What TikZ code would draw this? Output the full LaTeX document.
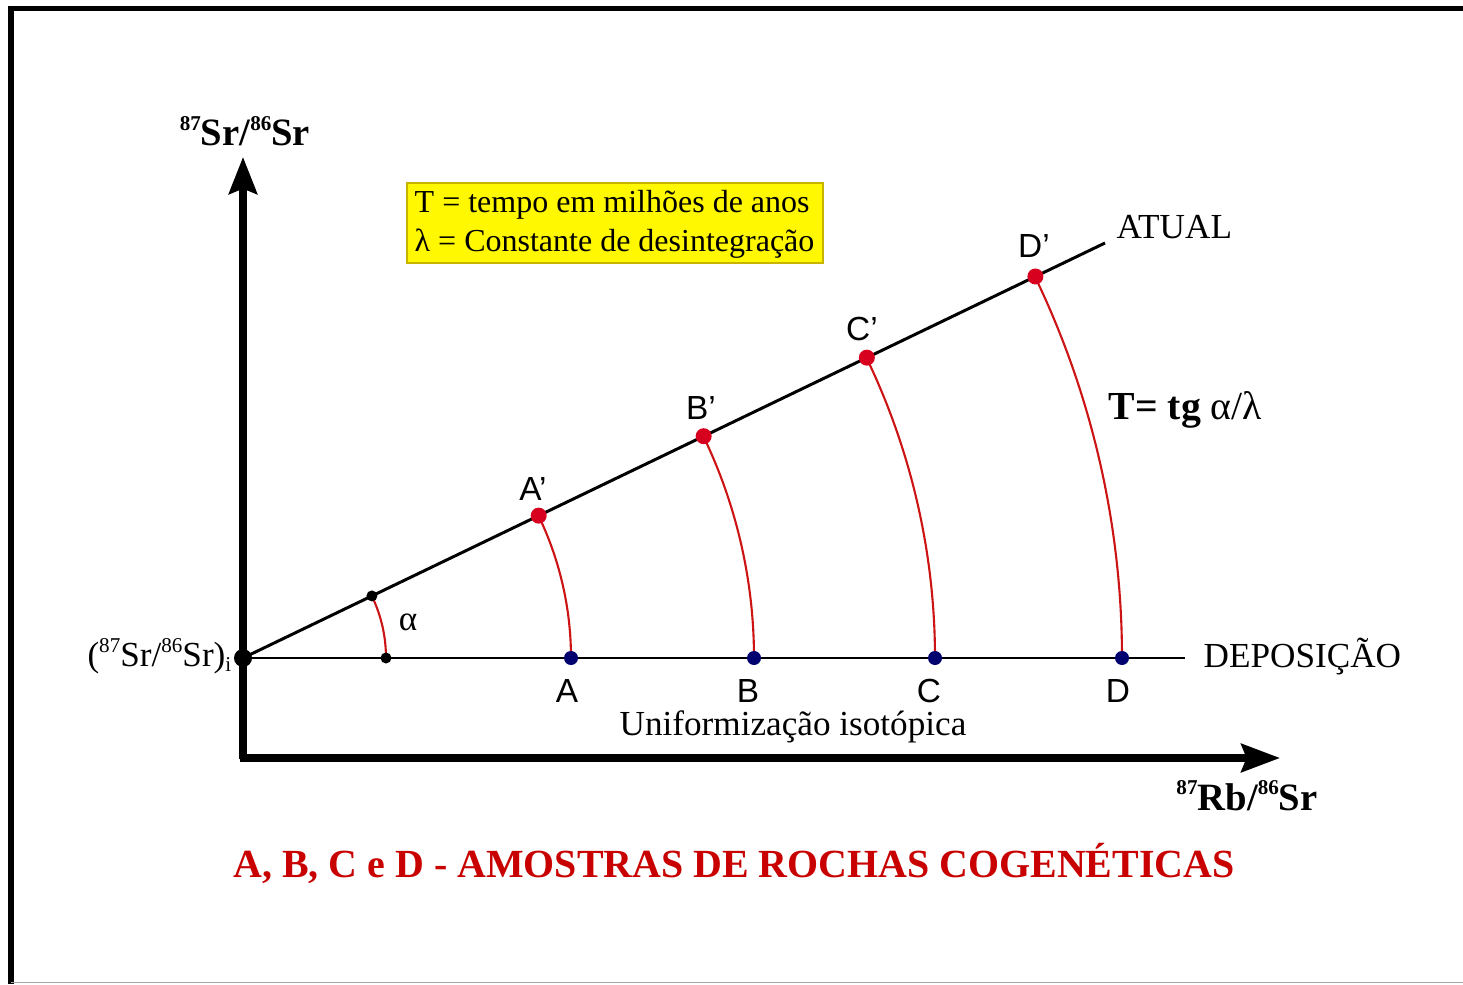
\documentclass[tikz,border=0pt]{standalone}
\usepackage{fontspec}
\setmainfont{Liberation Serif}
\newfontfamily\arialf{Liberation Sans}
\usetikzlibrary{arrows.meta,calc}
\definecolor{dotred}{RGB}{215,0,30}
\definecolor{arcred}{RGB}{205,20,20}
\definecolor{navyblue}{RGB}{0,0,110}
\definecolor{titlered}{RGB}{200,0,0}
\definecolor{boxyellow}{RGB}{255,248,0}
\definecolor{boxborder}{RGB}{200,180,0}
\newcommand{\isosup}[1]{\raisebox{0.85ex}{\fontsize{6}{6}\selectfont #1}}
\newcommand{\isosub}[1]{\raisebox{-0.35ex}{\fontsize{6}{6}\selectfont #1}}
\begin{document}
\begin{tikzpicture}[x=0.01cm,y=0.01cm,
  axisline/.style={line width=2pt},
  thinline/.style={line width=0.85pt},
  arcline/.style={arcred,line width=0.6pt},
  reddot/.style={circle,fill=dotred,inner sep=0pt,minimum size=0.16cm},
  bluedot/.style={circle,fill=navyblue,inner sep=0pt,minimum size=0.14cm},
  blackdot/.style={circle,fill=black,inner sep=0pt,minimum size=0.11cm},
  origindot/.style={circle,fill=black,inner sep=0pt,minimum size=0.18cm},
  ptlabel/.style={font=\arialf\fontsize{9.5}{11}\selectfont,inner sep=0pt,anchor=base},
  seriflabel/.style={font=\fontsize{10}{12}\selectfont,inner sep=0pt,anchor=base},
  axislabel/.style={font=\bfseries\fontsize{11}{13}\selectfont,inner sep=0pt,anchor=base}
]
\useasboundingbox (0,0) rectangle (1463,984);
% frame
\draw[line width=1.5pt] (11,0) -- (11,975.5) -- (1463,975.5);
\draw[black!35,line width=0.5pt] (11,1.5) -- (1463,1.5);

% coordinates
\coordinate (O) at (243,326);
\coordinate (corner) at (243,226);
\coordinate (ytip) at (243,827);
\coordinate (xtip) at (1280,226);
\coordinate (atualend) at (1105,741);
\coordinate (depend) at (1185,326);
\coordinate (A) at (571,326);
\coordinate (B) at (754,326);
\coordinate (C) at (935,326);
\coordinate (D) at (1122,326);
\coordinate (Ap) at ($(O)+(25.71:3.28cm)$);
\coordinate (Bp) at ($(O)+(25.71:5.11cm)$);
\coordinate (Cp) at ($(O)+(25.71:6.92cm)$);
\coordinate (Dp) at ($(O)+(25.71:8.79cm)$);
\coordinate (al1) at (386,326);
\coordinate (al2) at ($(O)+(25.71:1.43cm)$);

% axes
\draw[axisline,-{Stealth[length=10.5pt,width=8pt,inset=1.5pt]}] ($(corner)+(0,-1)$) -- (ytip);
\draw[axisline,-{Stealth[length=11pt,width=8pt,inset=1.5pt]}] ($(corner)+(-3,0)$) -- (xtip);

% lines
\draw[thinline] (O) -- (depend);
\draw[thinline] (O) -- (atualend);

% arcs
\draw[arcline] (al1) arc[start angle=0,end angle=25.71,radius=1.43cm];
\draw[arcline] (A) arc[start angle=0,end angle=25.71,radius=3.28cm];
\draw[arcline] (B) arc[start angle=0,end angle=25.71,radius=5.11cm];
\draw[arcline] (C) arc[start angle=0,end angle=25.71,radius=6.92cm];
\draw[arcline] (D) arc[start angle=0,end angle=25.71,radius=8.79cm];

% dots
\node[origindot] (o) at (O) {};
\node[blackdot] (s1) at (al1) {};
\node[blackdot] (s2) at (al2) {};
\node[bluedot] (a) at (A) {};
\node[bluedot] (b) at (B) {};
\node[bluedot] (c) at (C) {};
\node[bluedot] (d) at (D) {};
\node[reddot] (ap) at (Ap) {};
\node[reddot] (bp) at (Bp) {};
\node[reddot] (cp) at (Cp) {};
\node[reddot] (dp) at (Dp) {};

% point labels
\node[ptlabel] (la) at (567,282) {A};
\node[ptlabel] (lb) at (748,282) {B};
\node[ptlabel] (lc) at (929,282) {C};
\node[ptlabel] (ld) at (1118,282) {D};
\node[ptlabel] (lap) at (533,484) {A’};
\node[ptlabel] (lbp) at (701,564) {B’};
\node[ptlabel] (lcp) at (862,643) {C’};
\node[ptlabel] (ldp) at (1034,726) {D’};

% texts
\node[seriflabel,anchor=base west] (atual) at (1116,745) {ATUAL};
\node[seriflabel,anchor=base west] (depo) at (1203,317) {DEPOSIÇÃO};
\node[seriflabel] (unif) at (793,249) {Uniformização isotópica};
\node[seriflabel] (alpha) at (408,354) {α};
\node[seriflabel,anchor=base east] (ri) at (232,318) {(\isosup{87}Sr/\isosup{86}Sr)\isosub{i}};
\node[axislabel] (ylab) at (245,838) {\isosup{\bfseries 87}Sr/\isosup{\bfseries 86}Sr};
\node[axislabel] (xlab) at (1247,174) {\isosup{\bfseries 87}Rb/\isosup{\bfseries 86}Sr};
\node[font=\fontsize{11.3}{13}\selectfont,inner sep=0pt,anchor=base west] (form) at (1108,564) {\textbf{T= tg} α/λ};

% legend box
\node[draw=boxborder,fill=boxyellow,line width=0.4pt,minimum width=4.16cm,minimum height=0.8cm,inner sep=0pt] (box) at (615,761) {};
\node[font=\fontsize{9.1}{11}\selectfont,inner sep=0pt,anchor=base west] (l1) at (414,771) {T = tempo em milhões de anos};
\node[font=\fontsize{9.1}{11}\selectfont,inner sep=0pt,anchor=base west] (l2) at (414,732) {λ = Constante de desintegração};

% title
\node[font=\bfseries\fontsize{11.35}{13}\selectfont,text=titlered,inner sep=0pt,anchor=base] (title) at (734,107) {A, B, C e D - AMOSTRAS DE ROCHAS COGENÉTICAS};
\end{tikzpicture}
\end{document}
